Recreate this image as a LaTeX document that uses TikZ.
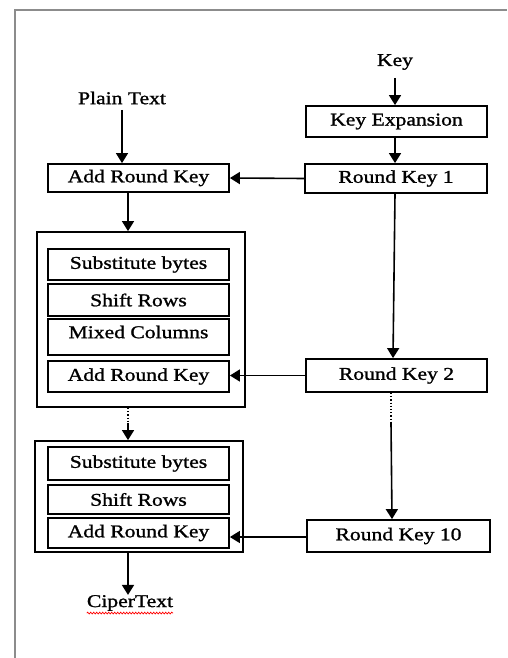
\documentclass[tikz,border=0pt]{standalone}
\usepackage{fontspec}
\setmainfont{Liberation Serif}[FakeStretch=1.2,FakeBold=1.2]
\usetikzlibrary{arrows.meta,decorations.pathmorphing}
\begin{document}
\begin{tikzpicture}[x=1pt,y=-1pt,
  every node/.style={font=\fontsize{18}{20}\selectfont, inner sep=0pt},
  box/.style={draw, line width=1.8pt, rectangle},
  outerbox/.style={draw, line width=1.8pt, rectangle},
  arr/.style={line width=1.6pt, -{Triangle[width=12pt,length=10pt]}},
  dots/.style={line width=1.2pt, dotted},
  lbl/.style={}]
\useasboundingbox (0,0) rectangle (507,658);
\fill[white] (0,0) rectangle (507,658);
\draw[black!45, line width=2pt] (15,658) -- (15,10) -- (507,10);

% key side
\node[lbl] (key) at (395,62) {Key};
\node[box, minimum width=181pt, minimum height=31pt] (ke) at (396.5,121.5) {Key Expansion};
\node[box, minimum width=182pt, minimum height=29pt] (rk1) at (396,178.5) {Round Key 1};
\node[box, minimum width=181pt, minimum height=33pt] (rk2) at (396.5,375.5) {Round Key 2};
\node[box, minimum width=183pt, minimum height=32pt] (rk10) at (398.5,536) {Round Key 10};

% plaintext side
\node[lbl] (pt) at (122,98) {Plain Text};
\node[box, minimum width=181pt, minimum height=28pt] (ark1) at (138.5,178) {Add Round Key};

\node[outerbox, minimum width=208pt, minimum height=175pt] (big1) at (141,319.5) {};
\node[box, minimum width=181pt, minimum height=31pt] (sb1) at (138.5,264.5) {Substitute bytes};
\node[box, minimum width=181pt, minimum height=32pt] (sr1) at (138.5,300) {Shift Rows};
\node[box, minimum width=181pt, minimum height=36pt] (mc1) at (138.5,337) {};
\node[lbl] (mct) at (138.5,332) {Mixed Columns};
\node[box, minimum width=181pt, minimum height=31pt] (ark2) at (138.5,376.5) {Add Round Key};

\node[outerbox, minimum width=208pt, minimum height=111pt] (big2) at (139,496.5) {};
\node[box, minimum width=181pt, minimum height=33pt] (sb2) at (138.5,463.5) {Substitute bytes};
\node[box, minimum width=181pt, minimum height=29pt] (sr2) at (138.5,499.5) {Shift Rows};
\node[box, minimum width=181pt, minimum height=30pt] (ark3) at (138.5,533) {Add Round Key};

\node[lbl] (ct) at (130,603) {CiperText};
\draw[red, line width=0.7pt, decorate, decoration={snake, amplitude=0.9pt, segment length=3pt}]
  ([yshift=-2pt]ct.south west) -- ([yshift=-2pt]ct.south east);

\coordinate (d1) at (128,423);
\coordinate (d2) at (391,423);

% arrows
\draw[arr] (key.south |- 0,78) -- (key.south |- ke.north);
\draw[arr] (pt.south |- 0,110) -- (pt.south |- ark1.north);
\draw[arr] (ke.south -| 395,0) -- (rk1.north -| 395,0);
\draw[arr] (rk1.west) -- (ark1.east);
\draw[arr] (ark1.south -| 128,0) -- (big1.north -| 128,0);
\draw[arr] (rk1.south -| 395,0) -- (rk2.north -| 393,0);
\draw[arr] (rk2.west) -- (ark2.east |- rk2.west);
\draw[dots] (big1.south -| d1) -- (d1);
\draw[arr] (d1) -- (big2.north -| d1);
\draw[dots] (rk2.south -| d2) -- (d2);
\draw[arr] (d2) -- (rk10.north -| 392,0);
\draw[arr] (rk10.west |- 0,537) -- (ark3.east |- 0,537);
\draw[arr] (big2.south -| 128,0) -- (ct.north -| 128,0);
\end{tikzpicture}
\end{document}
